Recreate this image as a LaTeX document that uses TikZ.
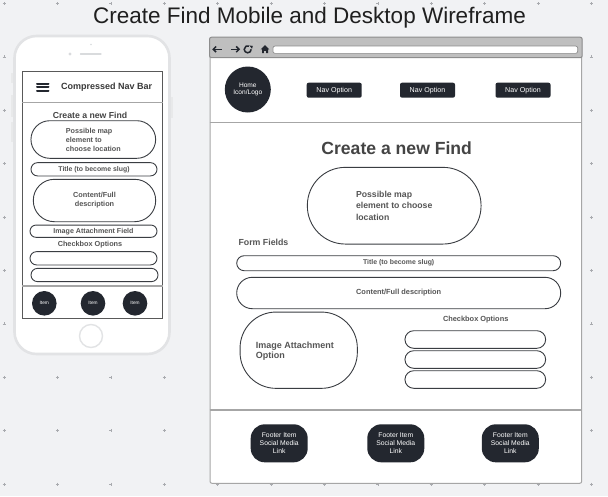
\documentclass[tikz,border=0pt]{standalone}
\usepackage{fontspec}
\setmainfont{Liberation Sans}
\usetikzlibrary{arrows.meta}

\definecolor{canvas}{HTML}{F1F2F4}
\definecolor{gridgray}{HTML}{A9ABAF}
\definecolor{inkdark}{HTML}{23272F}
\definecolor{stroke}{HTML}{3A3D42}
\definecolor{label}{HTML}{555555}
\definecolor{headline}{HTML}{444444}
\definecolor{shell}{HTML}{E2E3E5}
\definecolor{frame}{HTML}{A6A6A6}
\definecolor{barfill}{HTML}{BFBFBF}

\newcommand\sz[2]{\fontsize{#1}{#2}\selectfont}

\tikzset{
  gridmark/.style={draw=gridgray, line width=0.5},
  pill/.style={draw=stroke, fill=white, line width=0.9, rounded corners=#1,
    inner sep=0pt, text=label},
  darkbtn/.style={fill=inkdark, rounded corners=#1, inner sep=0pt, text=white},
  sepline/.style={draw=frame, line width=1.2},
  icon/.style={draw=inkdark, line width=1.5},
  caption/.style={text=label, inner sep=0pt},
  bold/.style 2 args={font={\bfseries\sz{#1}{#2}}},
  plain/.style 2 args={font={\sz{#1}{#2}}},
}

\begin{document}
\begin{tikzpicture}[x=1pt, y=-1pt]
\useasboundingbox (0,0) rectangle (608,496);
\fill[canvas] (0,0) rectangle (608,496);

% dotted canvas grid
\foreach \i in {0,...,11}
  \foreach \j in {0,...,9}
    \draw[gridmark] ({4+53.4*\i-1.5},{3.5+53.4*\j}) -- ++(3,0)
                    ({4+53.4*\i},{3.5+53.4*\j-1.5}) -- ++(0,3);

% page title
\node[anchor=base, inner sep=0pt, text=black!88, plain={22.5}{26}] (title) at (309.5,23.3)
  {Create Find Mobile and Desktop Wireframe};

% ---------------- mobile phone ----------------
\fill[shell!80] (11,73) rectangle (14,83);
\fill[shell!80] (11,95) rectangle (14,117);
\fill[shell!80] (11,122) rectangle (14,142);
\fill[shell!80] (170,97) rectangle (173,118);
\draw[draw=shell, fill=white, line width=2.6, rounded corners=22] (14.5,36) rectangle (169.5,354);
\fill[shell!130] (70,54) circle (1.7);
\draw[shell!130, line width=1.3, line cap=round] (80.5,54) -- (101,54);
\fill[shell!130] (91,44.5) circle (0.9);
\draw[shell, line width=1.4] (91,336) circle (11.5);

\node[draw=black!65, line width=0.9, minimum width=140, minimum height=247, inner sep=0pt] (screen) at (92.3,195.2) {};
\draw[sepline] (screen.west |- 0,102.7) -- (screen.east |- 0,102.7);
\draw[sepline] (screen.west |- 0,286) -- (screen.east |- 0,286);

% hamburger menu
\draw[inkdark, line width=2, line cap=round] (37,84) -- (48.5,84) (37,87.4) -- (48.5,87.4) (37,90.8) -- (48.5,90.8);
\node[caption, text=black!78, bold={9}{11}] (mnav) at (106.7,87.3) {Compressed Nav Bar};

\node[caption, text=headline, bold={8.7}{10}] (mhead) at (90,115) {Create a new Find};
\node[pill=18.8, minimum width=124.7, minimum height=37.6, align=left, bold={7.2}{9}] (mmap) at (93.3,139.5)
  {Possible map\\element to\\choose location};
\node[pill=6.6, minimum width=126, minimum height=13.3, bold={6.9}{8}] (mtitle) at (94,169.3)
  {Title (to become slug)};
\node[pill=21, minimum width=122.4, minimum height=42.4, align=center, bold={7.3}{9}] (mcontent) at (94.5,200.5)
  {Content/Full\\description};
\node[pill=6.1, minimum width=127, minimum height=12.3, bold={7.1}{8}] (mimage) at (93.5,231.2)
  {Image Attachment Field};
\node[caption, bold={7.3}{8}] (mcheck) at (90,245) {Checkbox Options};
\node[pill=6.6, minimum width=127, minimum height=13.3] (mcb1) at (93.5,258.3) {};
\node[pill=6.6, minimum width=127, minimum height=13.3] (mcb2) at (94.5,275) {};

\foreach \x/\n in {44.3/mi1, 93/mi2, 135/mi3}
  \node[circle, fill=inkdark, minimum size=24.6, inner sep=0pt, text=white, plain={4.8}{5}] (\n) at (\x,303.3) {Item};

% ---------------- desktop browser ----------------
\node[draw=frame, fill=white, line width=1, rounded corners=2, minimum width=371.7, minimum height=445.6, inner sep=0pt] (window) at (395.85,260.5) {};
\path[draw=frame!85!black, fill=barfill, line width=1, rounded corners=2]
  (window.south west |- 0,57.7) -- (window.north west) -- (window.north east) -- (window.south east |- 0,57.7) -- cycle;
\node[draw=black!45, fill=white, line width=0.7, rounded corners=2, minimum width=304.7, minimum height=7.3, inner sep=0pt] (address) at (425.3,49.7) {};

% navigation icons
\draw[icon, -{Straight Barb[length=2.8,width=5.6]}] (221.5,49.3) -- (212.2,49.3);
\draw[icon, -{Straight Barb[length=2.8,width=5.6]}] (230.8,49.3) -- (240.1,49.3);
\draw[icon] (251.2,49.3) arc[start angle=0, end angle=290, radius=3.5];
\fill[inkdark] (252.8,46) -- (249.4,45.4) -- (252,48.8) -- cycle;
\fill[inkdark] (265,45.2) -- (269.3,49.4) -- (268,49.4) -- (268,53.2) -- (266.2,53.2) -- (266.2,50.8)
  -- (263.8,50.8) -- (263.8,53.2) -- (262,53.2) -- (262,49.4) -- (260.7,49.4) -- cycle;

\draw[sepline] (window.west |- 0,122.3) -- (window.east |- 0,122.3);
\draw[sepline] (window.west |- 0,410) -- (window.east |- 0,410);

\node[circle, fill=inkdark, minimum size=46, inner sep=0pt, text=white, align=center, plain={6.6}{7.3}] (logo) at (247.8,89.5)
  {Home\\Icon/Logo};
\foreach \x/\n in {334.2/nav1, 427.5/nav2, 523/nav3}
  \node[darkbtn=2, minimum width=55, minimum height=15, plain={7.1}{8}] (\n) at (\x,90.2) {Nav Option};

\node[caption, text=headline, bold={17.6}{20}] (dhead) at (396.7,148.3) {Create a new Find};
\node[pill=38, minimum width=173.7, minimum height=76.7, align=left, bold={8.7}{11.2}] (dmap) at (394.2,205.7)
  {Possible map\\element to choose\\location};
\node[caption, anchor=west, bold={8.8}{9}] (dform) at (238.3,242.7) {Form Fields};
\node[pill=7.5, minimum width=324, minimum height=15, bold={6.9}{8}] (dtitle) at (398.7,263.2)
  {Title (to become slug)};
\node[pill=15.7, minimum width=324, minimum height=31.4, bold={7.4}{8}] (dcontent) at (398.7,293)
  {Content/Full description};
\node[pill=36, minimum width=117.3, minimum height=76.3] (dimage) at (298.7,350.2) {};
\node[caption, anchor=west, align=left, bold={9}{10.6}] (dimagetext) at (255.7,351) {Image Attachment\\Option};
\node[caption, bold={7.4}{8}] (dcheck) at (475.7,319.3) {Checkbox Options};
\foreach \y/\n in {339.5/dcb1, 359.5/dcb2, 379.5/dcb3}
  \node[pill=8.8, minimum width=140.7, minimum height=17.6] (\n) at (475.3,\y) {};

\foreach \x/\n in {279.2/df1, 395.8/df2, 510.3/df3}
  \node[darkbtn=14, minimum width=57, minimum height=38, align=center, plain={6.8}{8.3}] (\n) at (\x,443.3)
    {Footer Item\\Social Media\\Link};
\end{tikzpicture}
\end{document}
